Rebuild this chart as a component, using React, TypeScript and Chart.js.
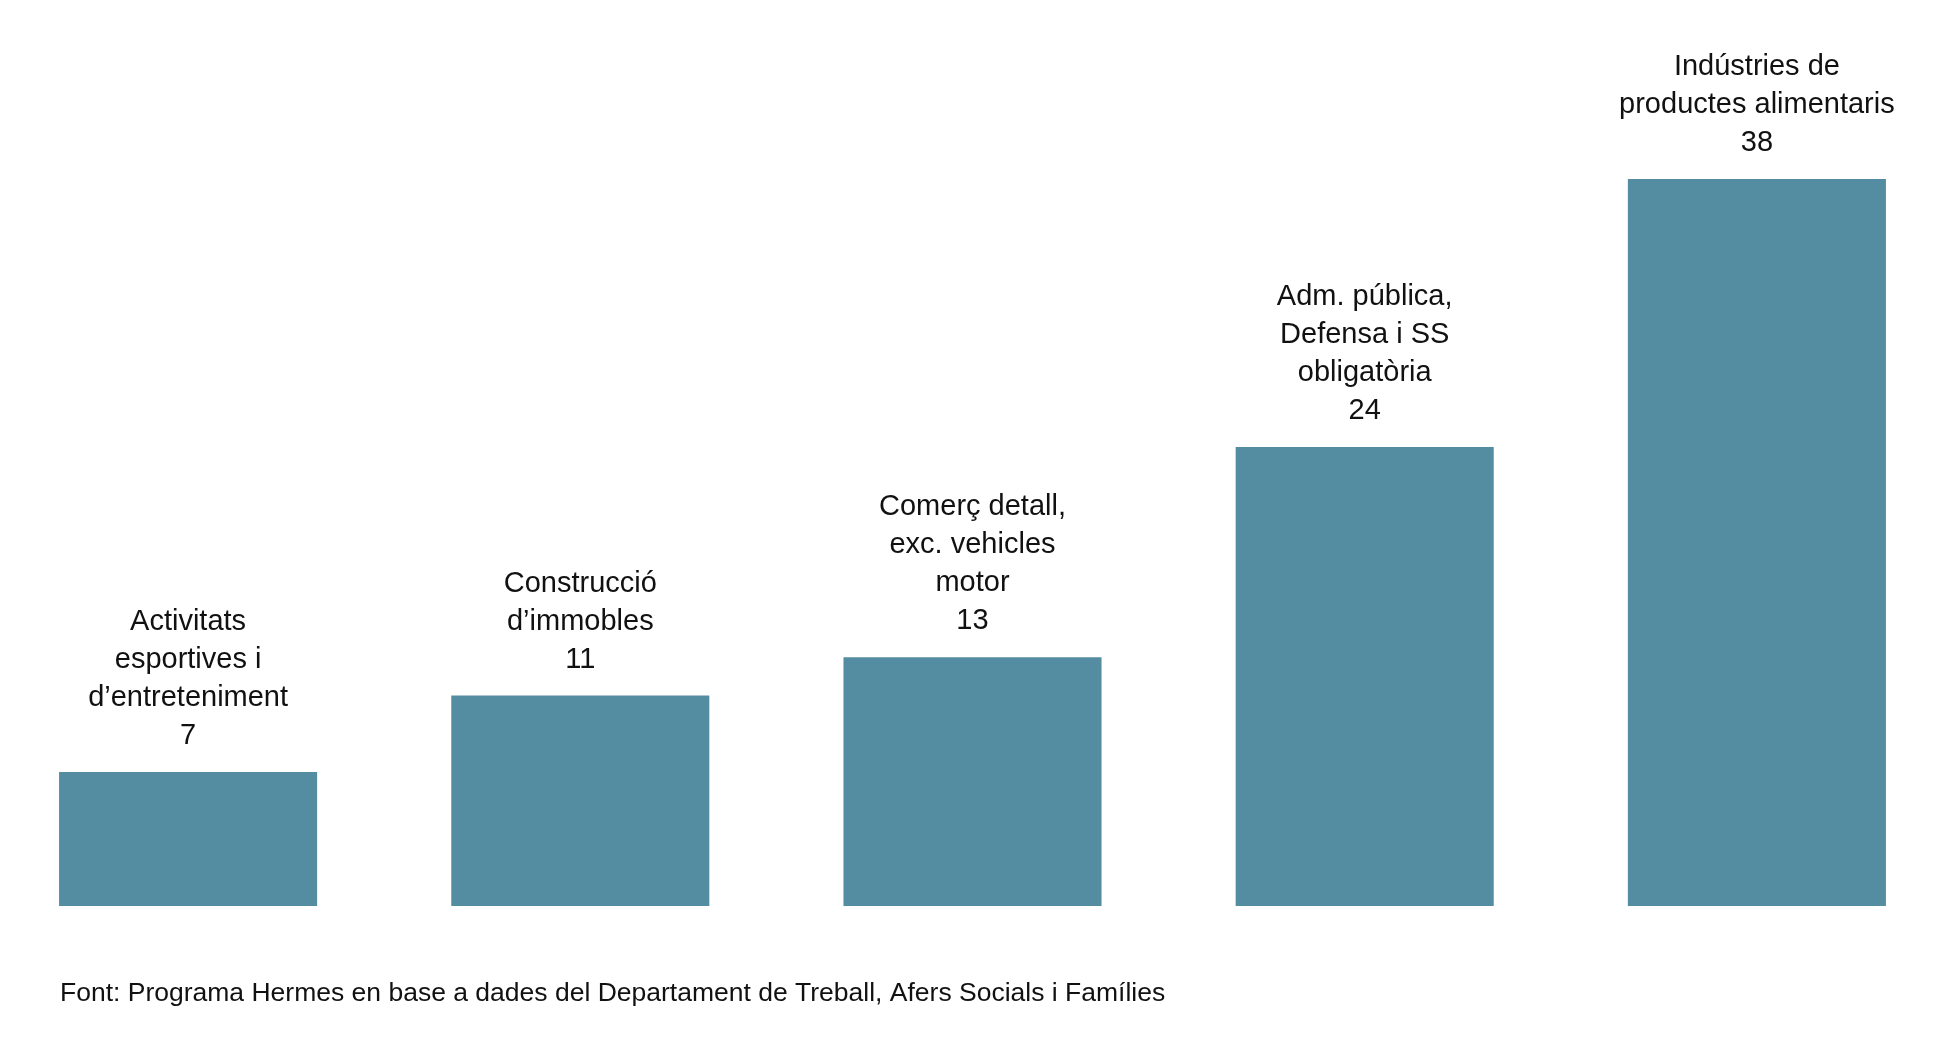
import React, { useEffect, useRef } from "react";
import { Chart, registerables } from "chart.js";
Chart.register(...registerables);

const categories: string[][] = [
  ["Activitats", "esportives i", "d’entreteniment"],
  ["Construcció", "d’immobles"],
  ["Comerç detall,", "exc. vehicles", "motor"],
  ["Adm. pública,", "Defensa i SS", "obligatòria"],
  ["Indústries de", "productes alimentaris"],
];
const values: number[] = [7, 11, 13, 24, 38];
const source = "Font: Programa Hermes en base a dades del Departament de Treball, Afers Socials i Famílies";

const FONT = '"Liberation Sans", Arial, Helvetica, sans-serif';

export default function App() {
  const ref = useRef<HTMLCanvasElement>(null);
  useEffect(() => {
    const labelPlugin = {
      id: "labels",
      afterDatasetsDraw(chart: any) {
        const ctx = chart.ctx;
        const meta = chart.getDatasetMeta(0);
        ctx.save();
        ctx.fillStyle = "#111";
        ctx.font = `29px ${FONT}`;
        ctx.textAlign = "center";
        ctx.textBaseline = "middle";
        meta.data.forEach((bar: any, i: number) => {
          const lines = [...categories[i], String(values[i])];
          const n = lines.length;
          lines.forEach((l, j) => {
            ctx.fillText(l, bar.x, bar.y - 36 - (n - 1 - j) * 38);
          });
        });
        ctx.textAlign = "left";
        ctx.font = `26.5px ${FONT}`;
        ctx.fillText(source, 68, 994);
        ctx.restore();
      },
    };
    const chart = new Chart(ref.current!, {
      type: "bar",
      data: {
        labels: categories.map((c) => c.join(" ")),
        datasets: [
          {
            data: values,
            backgroundColor: "#548DA1",
            barPercentage: 0.658,
            categoryPercentage: 1,
          },
        ],
      },
      options: {
        animation: false,
        responsive: false,
        layout: { padding: { top: 0, bottom: 157, left: 0, right: 0 } },
        plugins: { legend: { display: false }, tooltip: { enabled: false } },
        scales: {
          x: { display: false },
          y: { display: false, min: 0, max: 47.36 },
        },
      },
      plugins: [labelPlugin],
    });
    return () => chart.destroy();
  }, []);
  return (
    <div style={{ position: "absolute", left: -8, top: 0, width: 1961, height: 1063 }}>
      <canvas ref={ref} width={1961} height={1063} style={{ width: 1961, height: 1063 }} />
    </div>
  );
}
